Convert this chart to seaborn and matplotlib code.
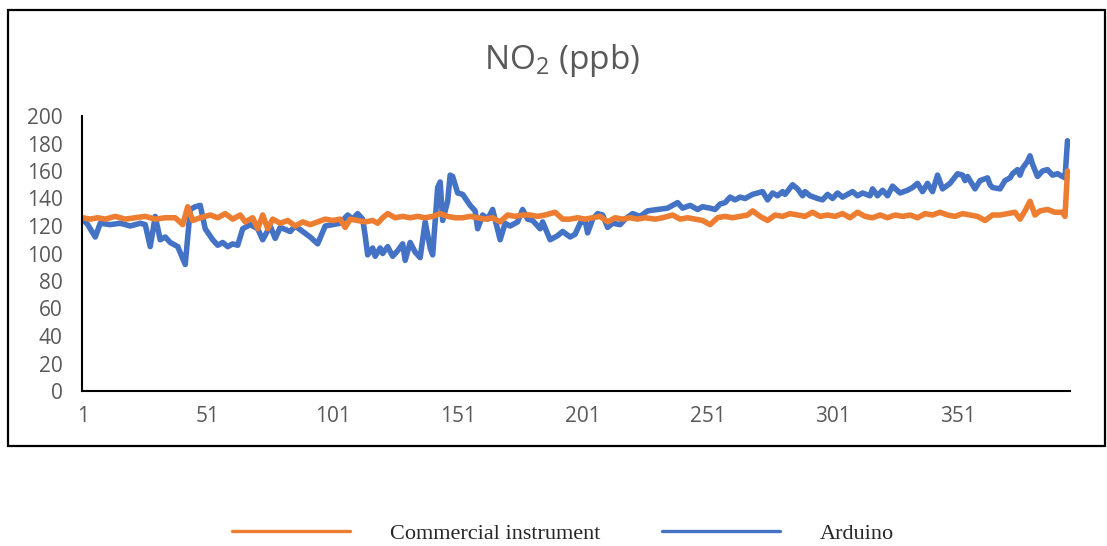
import matplotlib
matplotlib.use("Agg")
import matplotlib.pyplot as plt
import seaborn as sns
import pandas as pd
from matplotlib.patches import Rectangle
from matplotlib.lines import Line2D

# ---- data ----
arduino_pts = [(1,125),(3,121),(6,112),(8,122),(12,121),(16,122),(20,120),(24,122),(26,121),(28,105),
 (30,127),(32,110),(34,112),(36,108),(39,105),(42,92),(44,132),(46,134),(48,135),(50,118),(53,110),
 (55,106),(57,108),(59,105),(61,107),(63,106),(65,118),(68,121),(71,118),(73,110),(76,120),(78,111),
 (80,119),(84,116),(86,120),(89,116),(92,112),(95,107),(98,120),(101,121),(104,122),(107,128),(109,125),
 (111,129),(113,125),(114,113),(115,99),(117,104),(118,98),(120,104),(121,100),(123,105),(125,98),
 (127,102),(129,107),(130,95),(132,108),(134,101),(136,97),(138,123),(140,104),(141,99),(143,148),
 (144,152),(145,124),(147,138),(148,157),(149,156),(151,144),(153,143),(156,135),(158,131),(159,118),
 (161,128),(163,125),(165,132),(168,110),(170,122),(172,120),(175,123),(177,132),(179,125),(181,124),
 (184,118),(185,123),(188,110),(191,113),(193,116),(196,112),(198,114),(200,122),(202,124),(203,115),
 (205,125),(207,129),(209,128),(211,119),(213,122),(216,121),(218,125),(221,129),(224,127),(227,131),
 (231,132),(235,133),(237,135),(239,137),(241,133),(244,135),(247,132),(249,134),(252,133),(254,132),
 (256,136),(258,137),(260,141),(262,139),(264,141),(266,140),(269,143),(271,144),(273,145),(275,139),
 (277,144),(279,142),(281,145),(282,143),(285,150),(287,147),(289,142),(290,145),(292,142),(295,140),
 (297,139),(299,143),(301,140),(303,144),(305,141),(309,145),(311,142),(313,144),(316,142),(317,147),
 (319,142),(321,146),(323,142),(325,149),(328,144),(331,146),(333,148),(335,151),(337,145),(339,151),
 (341,145),(343,157),(345,147),(348,151),(351,158),(353,157),(354,153),(355,156),(358,147),(360,153),
 (363,155),(364,150),(365,148),(368,147),(370,153),(372,155),(373,158),(375,161),(376,157),(377,162),
 (379,167),(380,171),(381,165),(383,156),(385,160),(387,161),(389,157),(391,158),(393,156),(394,155),
 (395,182)]

commercial_pts = [(1,126),(4,125),(7,126),(10,125),(14,127),(18,125),(22,126),(26,127),(30,125),(34,126),
 (38,126),(41,121),(43,134),(45,124),(48,126),(52,128),(55,126),(58,129),(61,125),(64,128),(66,123),
 (69,126),(71,118),(73,128),(75,118),(77,125),(80,122),(83,124),(86,120),(89,123),(92,121),(95,123),
 (98,125),(101,124),(104,125),(106,119),(108,125),(111,124),(114,123),(117,124),(119,122),(121,126),
 (123,129),(126,126),(129,127),(132,126),(135,127),(138,126),(141,127),(144,129),(147,127),(150,126),
 (153,126),(156,127),(159,126),(162,125),(165,126),(168,123),(171,128),(174,127),(177,128),(180,128),
 (183,127),(186,128),(190,130),(193,125),(196,125),(199,126),(202,125),(205,126),(208,127),(211,123),
 (214,126),(217,125),(220,126),(223,125),(226,126),(230,125),(233,126),(237,128),(240,125),(243,126),
 (246,125),(249,124),(252,121),(255,126),(258,127),(261,126),(264,127),(267,128),(269,131),(272,127),
 (275,124),(278,128),(281,127),(284,129),(287,128),(290,127),(293,130),(296,127),(299,128),(302,127),
 (305,129),(308,126),(311,130),(314,127),(317,126),(320,128),(323,126),(326,128),(329,127),(332,128),
 (335,126),(338,129),(341,128),(344,130),(347,128),(350,127),(353,129),(356,128),(359,127),(362,124),
 (365,128),(368,128),(371,129),(374,130),(376,125),(378,131),(380,138),(382,128),(384,131),(387,132),
 (390,130),(393,130),(394,127),(395,160)]

series_names = ["Commercial instrument", "Arduino"]
x_ticks = [1, 51, 101, 151, 201, 251, 301, 351]
y_ticks = list(range(0, 201, 20))
title = r"NO$_\mathregular{2}$ (ppb)"

# ---- style ----
sns.set_style("white")
plt.rcParams["font.family"] = ["Open Sans", "DejaVu Sans"]
plt.rcParams["mathtext.fontset"] = "custom"
plt.rcParams["mathtext.rm"] = "Open Sans"

ORANGE = "#ED7D31"
BLUE = "#4472C4"
GRAY = "#595959"

df_a = pd.DataFrame(arduino_pts, columns=["idx", "val"])
df_c = pd.DataFrame(commercial_pts, columns=["idx", "val"])

fig = plt.figure(figsize=(11.07, 5.46), dpi=100)
ax = fig.add_axes([82/1107, 1-391/546, (1070-82)/1107, (391-116)/546])

sns.lineplot(data=df_a, x="idx", y="val", ax=ax, color=BLUE, lw=4, sort=False)
sns.lineplot(data=df_c, x="idx", y="val", ax=ax, color=ORANGE, lw=4, sort=False)

ax.set_xlim(0.7, 396)
ax.set_ylim(0, 200)
ax.set_xticks(x_ticks)
ax.set_yticks(y_ticks)
ax.set_xlabel("")
ax.set_ylabel("")
ax.tick_params(axis="both", length=0, labelsize=15, labelcolor=GRAY)
ax.tick_params(axis="y", pad=14)
ax.tick_params(axis="x", pad=11)
for s in ["top", "right"]:
    ax.spines[s].set_visible(False)
for s in ["left", "bottom"]:
    ax.spines[s].set_color("black")
    ax.spines[s].set_linewidth(1.5)
ax.grid(False)

fig.text(562/1107, 1-60/546, title, ha="center", va="center", fontsize=24, color=GRAY)

# outer chart border
fig.patches.append(Rectangle((8/1107, 1-446/546), 1097/1107, 436/546, transform=fig.transFigure,
                             fill=False, edgecolor="black", linewidth=1.6))

handles = [Line2D([], [], color=ORANGE, lw=2.4), Line2D([], [], color=BLUE, lw=2.4)]
leg = fig.legend(handles, series_names, loc="center", bbox_to_anchor=(563/1107, 1-534/546),
                 ncol=2, frameon=False, handlelength=5.3, handletextpad=1.8, columnspacing=2.8,
                 prop={"family": "Liberation Serif", "size": 16})

fig.savefig("out.png", dpi=100)
